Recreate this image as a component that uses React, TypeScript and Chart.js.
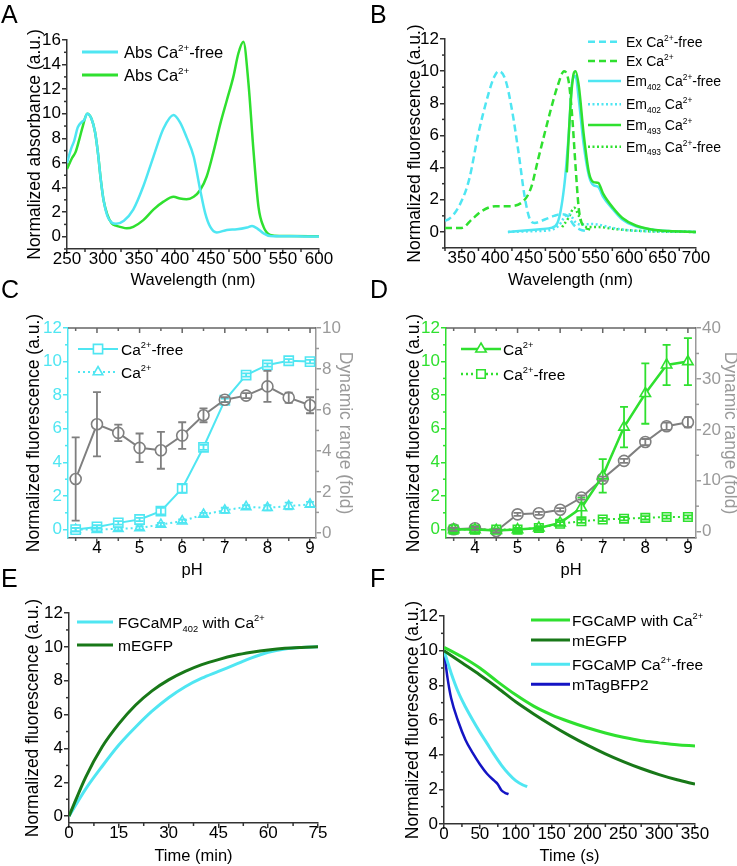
import React, { useEffect, useRef } from 'react';
import { Chart, registerables } from 'chart.js';

Chart.register(...registerables);

const FONT = '"Liberation Sans", Arial, Helvetica, sans-serif';
const CYAN = '#4FE6F2';
const GREEN = '#2FE02F';
const DKGREEN = '#187818';
const BLUE = '#1414C4';
const GRAY = '#7F7F7F';
const LGRAY = '#9A9A9A';
const AXIS = '#333333';

// ---------------- Panel A: absorbance ----------------
const A_WL_FREE = [250, 256, 260, 265, 270, 274, 278, 284, 289, 293, 297, 301, 306, 312, 318, 329, 342, 356, 370, 384, 398, 407, 416, 426, 435, 442, 449, 458, 472, 486, 500, 507, 514, 523, 532, 545, 560, 580, 600];
const A_ABS_FREE = [6.0, 7.2, 7.8, 8.9, 9.3, 9.5, 10.0, 9.6, 8.5, 6.8, 4.6, 2.9, 1.7, 1.15, 1.05, 1.3, 2.2, 4.1, 6.5, 8.8, 9.9, 9.3, 8.1, 6.5, 3.8, 1.9, 0.8, 0.35, 0.55, 0.6, 0.75, 0.87, 0.68, 0.27, 0.05, 0.03, 0.04, 0.02, 0.02];
const A_WL_CA = [250, 257, 262, 267, 272, 278, 284, 289, 293, 297, 301, 306, 312, 318, 324, 333, 342, 356, 370, 384, 398, 407, 416, 426, 435, 444, 453, 463, 472, 481, 488, 495, 502, 509, 516, 523, 532, 545, 560, 600];
const A_ABS_CA = [5.5, 6.4, 6.9, 7.9, 9.0, 10.0, 9.6, 8.5, 6.8, 4.6, 2.9, 1.8, 1.1, 0.9, 0.8, 0.68, 0.8, 1.35, 2.2, 2.85, 3.25, 3.1, 3.05, 3.25, 3.8, 4.9, 6.8, 9.2, 11.1, 13.0, 14.9, 15.85, 12.5, 7.0, 2.4, 0.8, 0.15, 0.05, 0.05, 0.03];
const A_X_TICKS = [250, 300, 350, 400, 450, 500, 550, 600];
const A_Y_TICKS = [0, 2, 4, 6, 8, 10, 12, 14, 16];

// ---------------- Panel B: excitation / emission ----------------
const B_EX_FREE_WL = [325, 331, 346, 361, 375, 390, 398, 405, 415, 425, 435, 444, 452, 459, 474, 488, 498, 508, 517, 527, 537];
const B_EX_FREE = [0.7, 0.8, 1.6, 3.25, 6.15, 8.6, 9.6, 10.0, 9.5, 7.6, 4.9, 2.2, 0.77, 0.56, 0.77, 1.0, 1.1, 1.0, 0.45, 0.15, 0.05];
const B_EX_CA_WL = [325, 350, 365, 380, 400, 420, 444, 454, 464, 474, 483, 493, 503, 510, 515, 520, 525, 532, 542];
const B_EX_CA = [0.25, 0.25, 0.77, 1.3, 1.6, 1.6, 2.0, 2.8, 4.5, 6.15, 7.6, 9.05, 10.0, 9.3, 7.2, 4.1, 1.4, 0.35, 0.15];
const B_EM402_FREE_WL = [419, 463, 483, 493, 503, 510, 515, 520, 525, 532, 540, 547, 554, 561, 576, 590, 610, 634, 659, 700];
const B_EM402_FREE = [0, 0.15, 0.25, 0.56, 2.8, 6.15, 9.3, 9.7, 8.2, 5.5, 3.5, 2.9, 2.8, 2.2, 1.4, 0.77, 0.35, 0.15, 0.05, 0];
const B_EM402_CA_WL = [419, 460, 480, 495, 505, 510, 515, 520, 530, 545, 555, 570, 590, 620, 700];
const B_EM402_CA = [0, 0.05, 0.1, 0.4, 1.0, 1.1, 0.9, 0.6, 0.45, 0.5, 0.45, 0.3, 0.15, 0.05, 0];
const B_EM493_CA_WL = [507, 513, 517, 520, 525, 532, 540, 547, 554, 561, 576, 590, 610, 634, 659, 700];
const B_EM493_CA = [3.7, 8.2, 9.8, 10.0, 9.05, 6.15, 3.7, 3.1, 3.05, 2.4, 1.5, 0.87, 0.4, 0.15, 0.05, 0];
const B_EM493_FREE_WL = [500, 510, 518, 525, 532, 540, 555, 575, 600, 650, 700];
const B_EM493_FREE = [0.3, 0.9, 1.5, 1.0, 0.4, 0.3, 0.3, 0.2, 0.1, 0.02, 0];
const B_X_TICKS = [350, 400, 450, 500, 550, 600, 650, 700];
const B_Y_TICKS = [0, 2, 4, 6, 8, 10, 12];

// ---------------- Panels C & D: pH ----------------
const PH = [3.5, 4, 4.5, 5, 5.5, 6, 6.5, 7, 7.5, 8, 8.5, 9];
const C_FREE = [0.0, 0.16, 0.4, 0.6, 1.1, 2.45, 4.9, 7.7, 9.2, 9.8, 10.05, 10.0];
const C_FREE_ERR = [0.1, 0.1, 0.1, 0.1, 0.2, 0.25, 0.15, 0.1, 0.1, 0.1, 0.1, 0.1];
const C_CA = [0.0, 0.0, 0.05, 0.1, 0.3, 0.5, 0.9, 1.15, 1.35, 1.3, 1.4, 1.5];
const C_CA_ERR = [0.1, 0.1, 0.1, 0.1, 0.1, 0.1, 0.1, 0.15, 0.1, 0.15, 0.2, 0.15];
const C_DR = [2.63, 5.3, 4.88, 4.15, 4.03, 4.75, 5.74, 6.5, 6.7, 7.15, 6.6, 6.23];
const C_DR_ERR = [2.03, 1.57, 0.4, 0.7, 0.9, 0.65, 0.34, 0.12, 0.12, 0.76, 0.25, 0.39];
const D_CA = [0.0, 0.0, -0.05, 0.0, 0.1, 0.4, 1.3, 3.2, 6.1, 8.1, 9.8, 10.0];
const D_CA_ERR = [0.1, 0.15, 0.1, 0.1, 0.1, 0.15, 0.6, 1.0, 1.2, 1.8, 1.2, 1.4];
const D_FREE = [0.0, 0.0, 0.0, 0.0, 0.1, 0.35, 0.5, 0.6, 0.65, 0.7, 0.75, 0.75];
const D_FREE_ERR = [0.05, 0.05, 0.05, 0.05, 0.05, 0.1, 0.1, 0.1, 0.1, 0.1, 0.1, 0.1];
const D_DR = [0.46, 0.66, 0.13, 3.4, 3.6, 4.3, 6.7, 10.4, 13.9, 17.6, 20.7, 21.5];
const D_DR_ERR = [0.3, 0.3, 0.3, 0.3, 0.3, 0.3, 0.4, 0.4, 0.4, 0.6, 0.7, 1.0];
const PH_TICKS = [4, 5, 6, 7, 8, 9];
const FL_TICKS = [0, 2, 4, 6, 8, 10, 12];
const C_DR_TICKS = [0, 2, 4, 6, 8, 10];
const D_DR_TICKS = [0, 10, 20, 30, 40];

// ---------------- Panel E: maturation ----------------
const E_T = [0, 5, 10, 15, 20, 25, 30, 35, 40, 45, 50, 55, 60, 65, 70, 75];
const E_FGCAMP = [0, 1.6, 2.95, 4.2, 5.25, 6.2, 7.0, 7.65, 8.15, 8.55, 8.95, 9.35, 9.68, 9.88, 9.97, 10.0];
const E_MEGFP = [0, 2.3, 4.1, 5.45, 6.55, 7.4, 8.05, 8.55, 8.95, 9.25, 9.5, 9.68, 9.82, 9.92, 9.97, 10.0];
const E_X_TICKS = [0, 15, 30, 45, 60, 75];
const E_Y_TICKS = [0, 2, 4, 6, 8, 10, 12];

// ---------------- Panel F: photobleaching ----------------
const F_T_LONG = [0, 25, 50, 75, 100, 125, 150, 175, 200, 225, 250, 275, 300, 325, 350];
const F_FGCAMP_CA = [10.2, 9.65, 9.0, 8.2, 7.45, 6.8, 6.3, 5.9, 5.55, 5.25, 5.0, 4.8, 4.68, 4.57, 4.5];
const F_MEGFP = [10.0, 9.3, 8.6, 7.85, 7.05, 6.35, 5.7, 5.1, 4.55, 4.05, 3.6, 3.2, 2.85, 2.55, 2.3];
const F_T_FREE = [0, 10, 20, 30, 40, 50, 60, 70, 80, 90, 100, 110, 116];
const F_FGCAMP_FREE = [10.0, 8.7, 7.6, 6.75, 6.0, 5.3, 4.65, 4.0, 3.4, 2.9, 2.5, 2.25, 2.15];
const F_T_BFP = [0, 5, 10, 20, 30, 40, 50, 60, 70, 75, 80, 85, 90];
const F_MTAGBFP2 = [10.0, 8.4, 7.25, 5.9, 4.85, 4.1, 3.45, 2.9, 2.5, 2.3, 1.95, 1.8, 1.72];
const F_X_TICKS = [0, 50, 100, 150, 200, 250, 300, 350];
const F_Y_TICKS = [0, 2, 4, 6, 8, 10, 12];

// ---------------- helpers ----------------
const pts = (xs: number[], ys: number[]) => xs.map((x, i) => ({ x, y: ys[i] }));

function drawRich(ctx: CanvasRenderingContext2D, text: string, x: number, y: number, size: number, color: string) {
  const parts = text.split(/(\^\{[^}]*\}|_\{[^}]*\})/).filter((p) => p.length > 0);
  let cx = x;
  const base = y + size * 0.36;
  ctx.fillStyle = color;
  ctx.textAlign = 'left';
  ctx.textBaseline = 'alphabetic';
  for (const p of parts) {
    let t = p;
    let s = size;
    let dy = 0;
    if (p.startsWith('^{')) { t = p.slice(2, -1); s = size * 0.6; dy = -size * 0.42; }
    else if (p.startsWith('_{')) { t = p.slice(2, -1); s = size * 0.6; dy = size * 0.26; }
    ctx.font = `${s}px ${FONT}`;
    ctx.fillText(t, cx, base + dy);
    cx += ctx.measureText(t).width;
  }
}

function drawMarker(ctx: CanvasRenderingContext2D, style: string, x: number, y: number, r: number) {
  ctx.beginPath();
  if (style === 'rect') {
    const s = Math.SQRT1_2 * r;
    ctx.rect(x - s, y - s, 2 * s, 2 * s);
  } else if (style === 'triangle') {
    let rad = 0;
    ctx.moveTo(x + Math.sin(rad) * r, y - Math.cos(rad) * r);
    rad += (2 * Math.PI) / 3;
    ctx.lineTo(x + Math.sin(rad) * r, y - Math.cos(rad) * r);
    rad += (2 * Math.PI) / 3;
    ctx.lineTo(x + Math.sin(rad) * r, y - Math.cos(rad) * r);
    ctx.closePath();
  } else {
    ctx.arc(x, y, r, 0, Math.PI * 2);
  }
  ctx.fill();
  ctx.stroke();
}

const decorPlugin = {
  id: 'decor',
  afterDatasetsDraw(chart: any) {
    const ctx = chart.ctx as CanvasRenderingContext2D;
    chart.data.datasets.forEach((ds: any, i: number) => {
      const errs = ds.errors as number[] | undefined;
      if (!errs) return;
      const meta = chart.getDatasetMeta(i);
      const ys = chart.scales[meta.yAxisID];
      ctx.save();
      ctx.strokeStyle = ds.borderColor;
      ctx.lineWidth = 1.8;
      ctx.setLineDash([]);
      meta.data.forEach((pt: any, j: number) => {
        const e = errs[j];
        if (!e) return;
        const v = ds.data[j].y;
        const y1 = ys.getPixelForValue(v + e);
        const y2 = ys.getPixelForValue(v - e);
        const x = pt.x;
        ctx.beginPath();
        ctx.moveTo(x, y1); ctx.lineTo(x, y2);
        ctx.moveTo(x - 4, y1); ctx.lineTo(x + 4, y1);
        ctx.moveTo(x - 4, y2); ctx.lineTo(x + 4, y2);
        ctx.stroke();
      });
      ctx.restore();
    });
  },
  afterDraw(chart: any, _a: any, opts: any) {
    const ctx = chart.ctx as CanvasRenderingContext2D;
    const minor = opts.minor || [];
    for (const m of minor) {
      const s = chart.scales[m.id];
      if (!s) continue;
      const majors = s.ticks.map((t: any) => t.value);
      ctx.save();
      ctx.strokeStyle = s.options.border.color;
      ctx.lineWidth = 1.5;
      const k0 = Math.ceil(s.min / m.step - 1e-9);
      const k1 = Math.floor(s.max / m.step + 1e-9);
      for (let k = k0; k <= k1; k++) {
        const v = k * m.step;
        if (majors.some((q: number) => Math.abs(q - v) < 1e-6)) continue;
        const p = s.getPixelForValue(v);
        ctx.beginPath();
        if (s.position === 'bottom') { ctx.moveTo(p, s.top); ctx.lineTo(p, s.top + 3); }
        else if (s.position === 'left') { ctx.moveTo(s.right, p); ctx.lineTo(s.right - 3, p); }
        else { ctx.moveTo(s.left, p); ctx.lineTo(s.left + 3, p); }
        ctx.stroke();
      }
      ctx.restore();
    }
    if (opts.top) {
      const { left, right, top } = chart.chartArea;
      const xs = chart.scales.x;
      ctx.save();
      ctx.strokeStyle = opts.top.color;
      ctx.lineWidth = 1.5;
      ctx.beginPath();
      ctx.moveTo(left, top); ctx.lineTo(right, top);
      const k0 = Math.ceil(xs.min / opts.top.step - 1e-9);
      const k1 = Math.floor(xs.max / opts.top.step + 1e-9);
      for (let k = k0; k <= k1; k++) {
        const v = k * opts.top.step;
        const isMajor = xs.ticks.some((t: any) => Math.abs(t.value - v) < 1e-6);
        const p = xs.getPixelForValue(v);
        ctx.moveTo(p, top); ctx.lineTo(p, top + (isMajor ? 5 : 3));
      }
      ctx.stroke();
      ctx.restore();
    }
    const lg = opts.legend;
    if (lg) {
      for (const it of lg.items) {
        const ds = chart.data.datasets[it.ds];
        ctx.save();
        ctx.strokeStyle = ds.borderColor;
        ctx.lineWidth = lg.lineWidth || ds.borderWidth;
        ctx.setLineDash(ds.borderDash ? [...ds.borderDash] : []);
        ctx.beginPath();
        ctx.moveTo(lg.x1, it.y); ctx.lineTo(lg.x2, it.y);
        ctx.stroke();
        ctx.setLineDash([]);
        if (ds.pointRadius && ds.pointRadius > 0) {
          ctx.fillStyle = ds.pointBackgroundColor || '#fff';
          ctx.lineWidth = ds.pointBorderWidth || 1.5;
          drawMarker(ctx, ds.pointStyle, (lg.x1 + lg.x2) / 2, it.y, ds.pointRadius);
        }
        drawRich(ctx, it.label, lg.tx, it.y, lg.size, '#000');
        ctx.restore();
      }
    }
  },
};

function mkScale(o: {
  position: 'left' | 'right' | 'bottom';
  min: number; max: number; ticks: number[]; size: number;
  title: string; titleSize?: number; titlePad?: number;
  lineColor?: string; labelColor?: string; titleColor?: string;
}) {
  const horiz = o.position === 'bottom';
  const lineColor = o.lineColor || AXIS;
  return {
    type: 'linear',
    position: o.position,
    min: o.min,
    max: o.max,
    afterBuildTicks: (s: any) => { s.ticks = o.ticks.map((v) => ({ value: v })); },
    afterFit: (s: any) => { if (horiz) s.height = o.size; else s.width = o.size; },
    border: { display: true, color: lineColor, width: 1.5 },
    grid: { display: true, drawOnChartArea: false, drawTicks: true, tickLength: 5, color: lineColor, lineWidth: 1.5 },
    ticks: {
      color: o.labelColor || '#000',
      font: { family: FONT, size: 17, lineHeight: 1 },
      padding: horiz ? -3 : 1,
      autoSkip: false,
      maxRotation: 0,
      callback: (v: any) => String(v),
    },
    title: {
      display: true,
      text: o.title,
      color: o.titleColor || '#000',
      font: { family: FONT, size: o.titleSize || (horiz ? 16.5 : 17.5) },
      padding: horiz ? { top: 0, bottom: 0 } : { top: o.titlePad || 0, bottom: 0 },
    },
  };
}

function baseOptions(padding: any, scales: any, decor: any) {
  return {
    responsive: false,
    maintainAspectRatio: false,
    animation: false,
    devicePixelRatio: 1,
    layout: { padding },
    plugins: { legend: { display: false }, tooltip: { enabled: false }, decor },
    scales,
  };
}

const lineDs = (label: string, data: any[], color: string, extra: any = {}) => ({
  label,
  data,
  borderColor: color,
  backgroundColor: color,
  borderWidth: 2.5,
  pointRadius: 0,
  fill: false,
  cubicInterpolationMode: 'monotone',
  ...extra,
});

const pointDs = (label: string, data: any[], color: string, style: string, radius: number, extra: any = {}) => ({
  label,
  data,
  borderColor: color,
  backgroundColor: color,
  borderWidth: 2,
  pointStyle: style,
  pointRadius: radius,
  pointBackgroundColor: '#ffffff',
  pointBorderColor: color,
  pointBorderWidth: 1.6,
  tension: 0,
  fill: false,
  ...extra,
});

// ---------------- chart configs ----------------
const makeA = () => ({
  type: 'line',
  data: {
    datasets: [
      lineDs('Abs Ca2+-free', pts(A_WL_FREE, A_ABS_FREE), CYAN),
      lineDs('Abs Ca2+', pts(A_WL_CA, A_ABS_CA), GREEN),
    ],
  },
  options: baseOptions(
    { left: 0, top: 15, right: 49, bottom: 0 },
    {
      x: mkScale({ position: 'bottom', min: 250, max: 600, ticks: A_X_TICKS, size: 41, title: 'Wavelength (nm)' }),
      y: mkScale({ position: 'left', min: -1, max: 16, ticks: A_Y_TICKS, size: 67, title: 'Normalized absorbance (a.u.)', titlePad: 25 }),
    },
    {
      minor: [{ id: 'x', step: 25 }, { id: 'y', step: 1 }],
      legend: {
        x1: 82, x2: 118, tx: 124, size: 16.5, lineWidth: 3,
        items: [{ ds: 0, y: 27, label: 'Abs Ca^{2+}-free' }, { ds: 1, y: 50, label: 'Abs Ca^{2+}' }],
      },
    },
  ),
  plugins: [decorPlugin],
});

const makeB = () => ({
  type: 'line',
  data: {
    datasets: [
      lineDs('Ex Ca2+-free', pts(B_EX_FREE_WL, B_EX_FREE), CYAN, { borderDash: [7, 4], order: 1 }),
      lineDs('Ex Ca2+', pts(B_EX_CA_WL, B_EX_CA), GREEN, { borderDash: [7, 4], order: 1 }),
      lineDs('Em402 Ca2+-free', pts(B_EM402_FREE_WL, B_EM402_FREE), CYAN, { order: 2 }),
      lineDs('Em402 Ca2+', pts(B_EM402_CA_WL, B_EM402_CA), CYAN, { borderDash: [2, 2.5], order: 1 }),
      lineDs('Em493 Ca2+', pts(B_EM493_CA_WL, B_EM493_CA), GREEN, { order: 0 }),
      lineDs('Em493 Ca2+-free', pts(B_EM493_FREE_WL, B_EM493_FREE), GREEN, { borderDash: [2, 2.5], order: 1 }),
    ],
  },
  options: baseOptions(
    { left: 0, top: 14, right: 41, bottom: 0 },
    {
      x: mkScale({ position: 'bottom', min: 325, max: 700, ticks: B_X_TICKS, size: 42, title: 'Wavelength (nm)' }),
      y: mkScale({ position: 'left', min: -1, max: 12, ticks: B_Y_TICKS, size: 77, title: 'Normalized fluorescence (a.u.)', titlePad: 37 }),
    },
    {
      minor: [{ id: 'x', step: 25 }, { id: 'y', step: 1 }],
      legend: {
        x1: 220, x2: 253, tx: 258, size: 14, lineWidth: 2.5,
        items: [
          { ds: 0, y: 16.7, label: 'Ex Ca^{2+}-free' },
          { ds: 1, y: 36, label: 'Ex Ca^{2+}' },
          { ds: 2, y: 56, label: 'Em_{402} Ca^{2+}-free' },
          { ds: 3, y: 79.3, label: 'Em_{402} Ca^{2+}' },
          { ds: 4, y: 100, label: 'Em_{493} Ca^{2+}' },
          { ds: 5, y: 121.7, label: 'Em_{493} Ca^{2+}-free' },
        ],
      },
    },
  ),
  plugins: [decorPlugin],
});

const makeC = () => ({
  type: 'line',
  data: {
    datasets: [
      pointDs('Ca2+-free', pts(PH, C_FREE), CYAN, 'rect', 6.5, { errors: C_FREE_ERR, order: 1 }),
      pointDs('Ca2+', pts(PH, C_CA), CYAN, 'triangle', 5.5, { borderDash: [2, 3], errors: C_CA_ERR, order: 1 }),
      pointDs('Dynamic range', pts(PH, C_DR), GRAY, 'circle', 5.5, { yAxisID: 'y2', errors: C_DR_ERR, order: 0 }),
    ],
  },
  options: baseOptions(
    { left: 0, top: 38, right: 0, bottom: 0 },
    {
      x: mkScale({ position: 'bottom', min: 3.32, max: 9.14, ticks: PH_TICKS, size: 42, title: 'pH', lineColor: '#555' }),
      y: mkScale({ position: 'left', min: -0.5, max: 12, ticks: FL_TICKS, size: 68, title: 'Normalized fluorescence (a.u.)', titlePad: 24, lineColor: CYAN, labelColor: CYAN }),
      y2: mkScale({ position: 'right', min: -0.25, max: 10, ticks: C_DR_TICKS, size: 52, title: 'Dynamic range (fold)', titlePad: 13, lineColor: LGRAY, labelColor: LGRAY, titleColor: LGRAY }),
    },
    {
      minor: [{ id: 'x', step: 0.5 }, { id: 'y', step: 1 }, { id: 'y2', step: 1 }],
      top: { color: '#666', step: 0.5 },
      legend: {
        x1: 78, x2: 118, tx: 121, size: 15.5, lineWidth: 2.2,
        items: [{ ds: 0, y: 59, label: 'Ca^{2+}-free' }, { ds: 1, y: 82, label: 'Ca^{2+}' }],
      },
    },
  ),
  plugins: [decorPlugin],
});

const makeD = () => ({
  type: 'line',
  data: {
    datasets: [
      pointDs('Ca2+', pts(PH, D_CA), GREEN, 'triangle', 6, { errors: D_CA_ERR, order: 0, borderWidth: 2.5 }),
      pointDs('Ca2+-free', pts(PH, D_FREE), GREEN, 'rect', 6, { borderDash: [2, 3], errors: D_FREE_ERR, order: 1 }),
      pointDs('Dynamic range', pts(PH, D_DR), GRAY, 'circle', 5.5, { yAxisID: 'y2', errors: D_DR_ERR, order: 1 }),
    ],
  },
  options: baseOptions(
    { left: 0, top: 38, right: 0, bottom: 0 },
    {
      x: mkScale({ position: 'bottom', min: 3.32, max: 9.19, ticks: PH_TICKS, size: 42, title: 'pH', lineColor: '#555' }),
      y: mkScale({ position: 'left', min: -0.5, max: 12, ticks: FL_TICKS, size: 78, title: 'Normalized fluorescence (a.u.)', titlePad: 36, lineColor: GREEN, labelColor: GREEN }),
      y2: mkScale({ position: 'right', min: -1.25, max: 40, ticks: D_DR_TICKS, size: 52, title: 'Dynamic range (fold)', titlePad: 8, lineColor: LGRAY, labelColor: LGRAY, titleColor: LGRAY }),
    },
    {
      minor: [{ id: 'x', step: 0.5 }, { id: 'y', step: 1 }, { id: 'y2', step: 5 }],
      top: { color: '#666', step: 0.5 },
      legend: {
        x1: 93, x2: 133, tx: 135, size: 15.5, lineWidth: 2.5,
        items: [{ ds: 0, y: 59, label: 'Ca^{2+}' }, { ds: 1, y: 84, label: 'Ca^{2+}-free' }],
      },
    },
  ),
  plugins: [decorPlugin],
});

const makeE = () => ({
  type: 'line',
  data: {
    datasets: [
      lineDs('FGCaMP402 with Ca2+', pts(E_T, E_FGCAMP), CYAN, { order: 1, borderWidth: 3 }),
      lineDs('mEGFP', pts(E_T, E_MEGFP), DKGREEN, { order: 0, borderWidth: 3 }),
    ],
  },
  options: baseOptions(
    { left: 0, top: 23, right: 50, bottom: 0 },
    {
      x: mkScale({ position: 'bottom', min: 0, max: 75, ticks: E_X_TICKS, size: 43, title: 'Time (min)' }),
      y: mkScale({ position: 'left', min: -0.4, max: 12, ticks: E_Y_TICKS, size: 69, title: 'Normalized fluorescence (a.u.)', titlePad: 23 }),
    },
    {
      minor: [{ id: 'x', step: 7.5 }, { id: 'y', step: 1 }],
      legend: {
        x1: 77, x2: 113, tx: 118, size: 15.5, lineWidth: 3,
        items: [{ ds: 0, y: 32, label: 'FGCaMP_{402} with Ca^{2+}' }, { ds: 1, y: 55, label: 'mEGFP' }],
      },
    },
  ),
  plugins: [decorPlugin],
});

const makeF = () => ({
  type: 'line',
  data: {
    datasets: [
      lineDs('FGCaMP with Ca2+', pts(F_T_LONG, F_FGCAMP_CA), GREEN, { borderWidth: 3 }),
      lineDs('mEGFP', pts(F_T_LONG, F_MEGFP), DKGREEN, { borderWidth: 3 }),
      lineDs('FGCaMP Ca2+-free', pts(F_T_FREE, F_FGCAMP_FREE), CYAN, { borderWidth: 3 }),
      lineDs('mTagBFP2', pts(F_T_BFP, F_MTAGBFP2), BLUE, { borderWidth: 2.5 }),
    ],
  },
  options: baseOptions(
    { left: 0, top: 26, right: 42, bottom: 0 },
    {
      x: mkScale({ position: 'bottom', min: 0, max: 350, ticks: F_X_TICKS, size: 42, title: 'Time (s)' }),
      y: mkScale({ position: 'left', min: 0, max: 12, ticks: F_Y_TICKS, size: 76, title: 'Normalized fluorescence (a.u.)', titlePad: 35 }),
    },
    {
      minor: [{ id: 'x', step: 25 }, { id: 'y', step: 1 }],
      legend: {
        x1: 163, x2: 202, tx: 204, size: 15.5, lineWidth: 3,
        items: [
          { ds: 0, y: 30, label: 'FGCaMP with Ca^{2+}' },
          { ds: 1, y: 50, label: 'mEGFP' },
          { ds: 2, y: 74.3, label: 'FGCaMP Ca^{2+}-free' },
          { ds: 3, y: 94.3, label: 'mTagBFP2' },
        ],
      },
    },
  ),
  plugins: [decorPlugin],
});

function ChartPanel(props: { left: number; top: number; width: number; height: number; make: () => any }) {
  const ref = useRef<HTMLCanvasElement | null>(null);
  useEffect(() => {
    const chart = new Chart(ref.current as HTMLCanvasElement, props.make());
    return () => chart.destroy();
  }, []);
  return (
    <canvas
      ref={ref}
      width={props.width}
      height={props.height}
      style={{ position: 'absolute', left: props.left, top: props.top, width: props.width, height: props.height }}
    />
  );
}

const letterStyle = (left: number, top: number): React.CSSProperties => ({
  position: 'absolute',
  left,
  top,
  fontFamily: FONT,
  fontSize: 25,
  lineHeight: '25px',
  color: '#000',
});

export default function App() {
  return (
    <div style={{ position: 'absolute', left: 0, top: 0, width: 737, height: 866, overflow: 'hidden', background: '#fff' }}>
      <ChartPanel left={0} top={25} width={368} height={265} make={makeA} />
      <ChartPanel left={368} top={25} width={369} height={265} make={makeB} />
      <ChartPanel left={0} top={290} width={368} height={290} make={makeC} />
      <ChartPanel left={368} top={290} width={380} height={290} make={makeD} />
      <ChartPanel left={0} top={590} width={368} height={276} make={makeE} />
      <ChartPanel left={368} top={590} width={369} height={276} make={makeF} />
      <div style={letterStyle(1, 2)}>A</div>
      <div style={letterStyle(370, 2)}>B</div>
      <div style={letterStyle(1, 277)}>C</div>
      <div style={letterStyle(370, 277)}>D</div>
      <div style={letterStyle(1, 566)}>E</div>
      <div style={letterStyle(370, 566)}>F</div>
    </div>
  );
}
